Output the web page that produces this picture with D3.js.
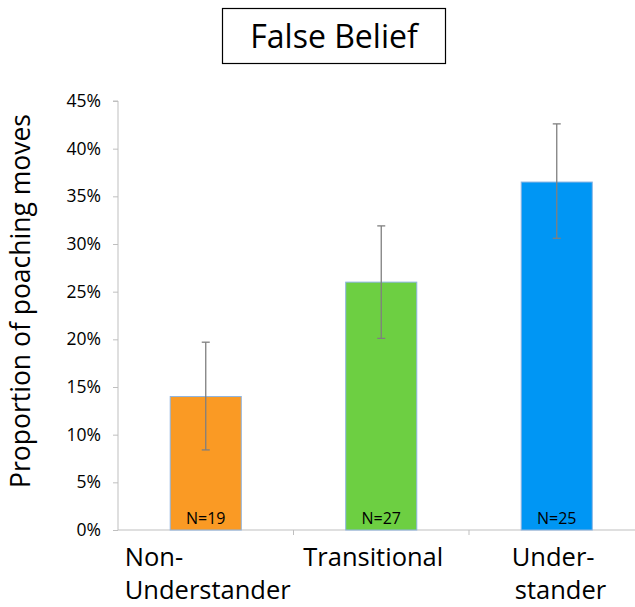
<!DOCTYPE html>
<html><head><meta charset="utf-8">
<script src="https://cdn.jsdelivr.net/npm/d3@7"></script>
<style>body{margin:0;background:#fff}</style>
</head><body>
<svg id="c" width="635" height="607"></svg>
<script>
const categories = ["Non-Understander", "Transitional", "Understander"];
const labelLines = [["Non-", "Understander"], ["Transitional"], ["Under-", "stander"]];
const values = [0.14, 0.26, 0.365];
const errLow = [0.084, 0.201, 0.306];
const errHigh = [0.197, 0.319, 0.426];
const nLabels = ["N=19", "N=27", "N=25"];
const colors = ["#FA9A24", "#6DCF42", "#0096F4"];
const yTicks = [0, 0.05, 0.10, 0.15, 0.20, 0.25, 0.30, 0.35, 0.40, 0.45];
const title = "False Belief";
const yTitle = "Proportion of poaching moves";

const svg = d3.select("#c");
const font = "'Open Sans', 'Noto Sans', sans-serif";
const x0 = 118, x1 = 644.5, yB = 530, yT = 101;
const x = d3.scaleBand().domain(categories).range([x0, x1]).paddingInner(0.595).paddingOuter(0.2975);
const y = d3.scaleLinear().domain([0, 0.45]).range([yB, yT]);

// title box
svg.append("rect").attr("x", 222.5).attr("y", 8.5).attr("width", 223).attr("height", 55)
  .attr("fill", "#fff").attr("stroke", "#000").attr("stroke-width", 1.2);
svg.append("text").attr("x", 334).attr("y", 48).attr("text-anchor", "middle")
  .attr("font-family", font).attr("font-size", 32).attr("fill", "#000").text(title);

// y axis
const yAxis = d3.axisLeft(y).tickValues(yTicks).tickSize(5).tickPadding(8)
  .tickFormat(d => Math.round(d * 100) + "%");
const gy = svg.append("g").attr("transform", `translate(${x0},0)`).call(yAxis);
gy.select(".domain").attr("stroke", "#bfbfbf").attr("d", `M-5,${yT}H0V${yB}`);
gy.selectAll(".tick line").attr("stroke", "#bfbfbf");
gy.selectAll(".tick text").attr("font-family", font).attr("font-size", 17.5).attr("fill", "#000").attr("x", -17);

// x axis line and category separators
const xAxis = d3.axisBottom(x).tickSize(0).tickFormat("");
const gx = svg.append("g").attr("transform", `translate(0,${yB})`).call(xAxis);
gx.select(".domain").attr("stroke", "#bfbfbf").attr("d", `M${x0},0H${x1}`);
const step = x.step();
[1, 2].forEach(i => {
  gx.append("line").attr("x1", x0 + step * i).attr("x2", x0 + step * i).attr("y1", 0).attr("y2", 5).attr("stroke", "#bfbfbf");
});

// bars
svg.selectAll("rect.bar").data(categories).enter().append("rect").attr("class", "bar")
  .attr("x", d => x(d)).attr("width", x.bandwidth())
  .attr("y", (d, i) => y(values[i])).attr("height", (d, i) => yB - y(values[i]))
  .attr("fill", (d, i) => colors[i]).attr("stroke", "#8DB4E2").attr("stroke-width", 1);

// error bars
const eb = svg.selectAll("g.err").data(categories).enter().append("g").attr("class", "err");
eb.append("line").attr("x1", d => x(d) + x.bandwidth() / 2).attr("x2", d => x(d) + x.bandwidth() / 2)
  .attr("y1", (d, i) => y(errLow[i])).attr("y2", (d, i) => y(errHigh[i]))
  .attr("stroke", "#7f7f7f").attr("stroke-width", 1.3);
[errLow, errHigh].forEach(arr => {
  eb.append("line").attr("x1", d => x(d) + x.bandwidth() / 2 - 4).attr("x2", d => x(d) + x.bandwidth() / 2 + 4)
    .attr("y1", (d, i) => y(arr[i])).attr("y2", (d, i) => y(arr[i]))
    .attr("stroke", "#7f7f7f").attr("stroke-width", 1.3);
});

// N labels
svg.selectAll("text.n").data(categories).enter().append("text").attr("class", "n")
  .attr("x", d => x(d) + x.bandwidth() / 2).attr("y", 524).attr("text-anchor", "middle")
  .attr("font-family", font).attr("font-size", 16).attr("fill", "#000").text((d, i) => nLabels[i]);

// category labels
const labelOffsets = [[-81, -81], [-78], [-45, -42]];
categories.forEach((c, i) => {
  const cx = x(c) + x.bandwidth() / 2;
  labelLines[i].forEach((ln, j) => {
    svg.append("text").attr("x", cx + labelOffsets[i][j]).attr("y", 566 + j * 33)
      .attr("font-family", font).attr("font-size", 25.5).attr("fill", "#000").text(ln);
  });
});

// y title
svg.append("text").attr("transform", `translate(30,301) rotate(-90)`)
  .attr("text-anchor", "middle").attr("font-family", font).attr("font-size", 26.5).attr("fill", "#000").text(yTitle);
</script>
</body></html>
